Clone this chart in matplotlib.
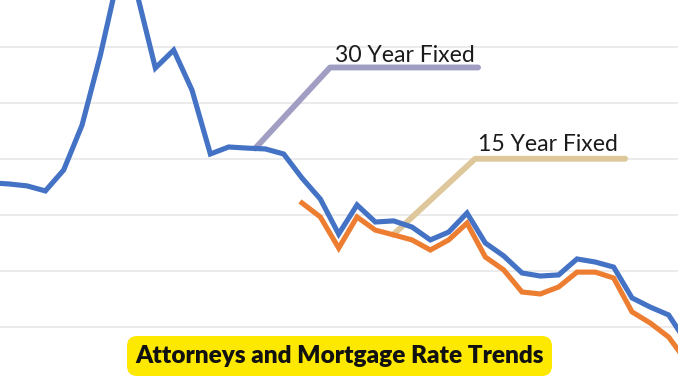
import numpy as np
import matplotlib
matplotlib.use('Agg')
import matplotlib.pyplot as plt
from matplotlib.patches import FancyBboxPatch
from matplotlib.transforms import IdentityTransform

# yearly average rates (%)
years = list(range(1974, 2013))
rate_30 = [9.15, 9.11, 9.04, 8.86, 9.61, 11.21, 13.71, 16.6, 15.9, 13.25,
           13.89, 12.46, 10.18, 10.43, 10.39, 10.36, 10.18, 9.32, 8.57, 7.32,
           8.36, 7.75, 7.79, 7.57, 7.11, 7.39, 8.07, 7.00, 6.54, 5.93,
           5.82, 5.86, 6.43, 6.32, 6.14, 5.04, 4.71, 4.43, 3.43]
years_15 = list(range(1991, 2013))
rate_15 = [8.43, 7.93, 6.82, 7.93, 7.46, 7.29, 7.11, 6.75, 7.11, 7.71,
           6.50, 6.04, 5.25, 5.18, 5.43, 5.96, 5.96, 5.75, 4.54, 4.14,
           3.64, 2.75]
grid_levels = [4, 6, 8, 10, 12, 14]

title = 'Attorneys and Mortgage Rate Trends'
label_30 = '30 Year Fixed'
label_15 = '15 Year Fixed'

W, H = 678, 381
fig = plt.figure(figsize=(W / 100, H / 100), dpi=100)
ax = fig.add_axes([0, 0, 1, 1])

ax.plot(years, rate_30, color='#4472C4', lw=3.7, zorder=3, solid_joinstyle='miter')
ax.plot(years_15, rate_15, color='#ED7D31', lw=3.7, zorder=3, solid_joinstyle='miter')

ax.set_xlim(1974.525, 2011.51)
ax.set_ylim(2.071, 15.68)
ax.set_yticks(grid_levels)
ax.grid(axis='y', color='#e6e6e6', lw=1.1)
ax.set_axisbelow(True)
ax.tick_params(left=False, bottom=False, labelleft=False, labelbottom=False)
for s in ax.spines.values():
    s.set_visible(False)

fig.canvas.draw()


def callout(x_at, xs, ys, dx, dy, run, text, color, tdx, tdy):
    # elbow line starting on the series, drawn in pixels
    ya = np.interp(x_at, xs, ys)
    x0, y0 = ax.transData.transform((x_at, ya))
    px = [x0, x0 + dx, x0 + dx + run]
    py = [y0, y0 + dy, y0 + dy]
    ax.plot(px, py, color=color, lw=4.2, transform=IdentityTransform(),
            solid_capstyle='round', zorder=2, clip_on=False)
    ax.text(x0 + dx + tdx, y0 + dy + tdy, text, transform=IdentityTransform(),
            ha='left', va='baseline', fontsize=16.6, family='Lato',
            color='#1b1b1b', zorder=4)


callout(1988.44, years, rate_30, 75, 81, 148, label_30, '#A19EC3', 5, 5)
callout(1995.97, years_15, rate_15, 82, 76, 150, label_15, '#DEC79B', 3, 8)

# yellow title banner
box = FancyBboxPatch((127 / W, 1 - 376 / H), 425 / W, 40 / H,
                     boxstyle='round,pad=0,rounding_size=0.015',
                     transform=fig.transFigure, fc='#FDE800', ec='none',
                     mutation_aspect=W / H, zorder=5)
fig.patches.append(box)
fig.text(339.5 / W, 1 - 356 / H, title, ha='center', va='center',
         fontsize=17.6, fontweight='heavy', family='Lato', color='#111111', zorder=6)

fig.savefig('out.png', dpi=100)
